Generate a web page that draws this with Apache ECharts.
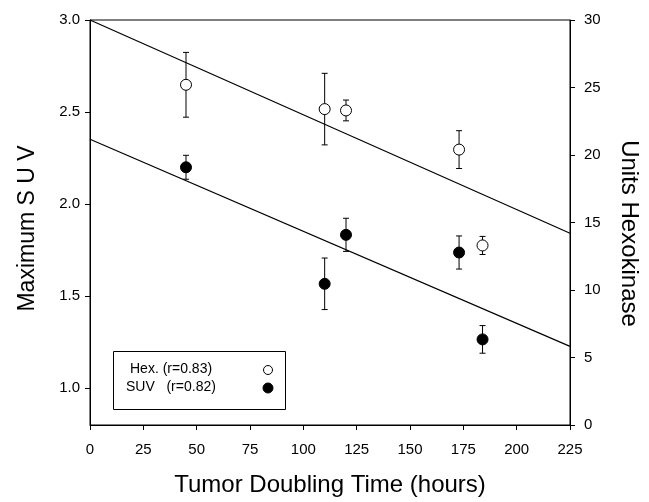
<!DOCTYPE html>
<html>
<head>
<meta charset="utf-8">
<script src="https://cdn.jsdelivr.net/npm/echarts@6/dist/echarts.min.js"></script>
<style>html,body{margin:0;padding:0;background:#fff}#c{width:649px;height:502px}</style>
</head>
<body>
<div id="c"></div>
<script>
// ---- data ----
const xTicks = [0, 25, 50, 75, 100, 125, 150, 175, 200, 225];
const suvTicks = [1.0, 1.5, 2.0, 2.5, 3.0];
const hexTicks = [0, 5, 10, 15, 20, 25, 30];

const hexX = [45, 110, 120, 173, 184];
const hexY = [25.2, 23.4, 23.3, 20.4, 13.3];
const hexErr = [2.4, 2.65, 0.77, 1.4, 0.67];

const suvX = [45, 110, 120, 173, 184];
const suvY = [2.20, 1.567, 1.833, 1.737, 1.265];
const suvErr = [0.065, 0.14, 0.09, 0.09, 0.075];

const hexFitX = [0, 225];
const hexFitY = [30, 14.2];
const suvFitX = [0, 225];
const suvFitY = [2.352, 1.227];

const legendLabels = ['Hex. (r=0.83)', 'SUV   (r=0.82)'];

// ---- chart ----
const FONT = '"Liberation Sans", Arial, Helvetica, sans-serif';
const chart = echarts.init(document.getElementById('c'), null, {renderer: 'canvas'});

function zip(xs, ys, es) { return xs.map((x, i) => es ? [x, ys[i], es[i]] : [x, ys[i]]); }

function errRender(params, api) {
  const x = api.value(0), y = api.value(1), e = api.value(2);
  const t = api.coord([x, y + e]);
  const b = api.coord([x, y - e]);
  const w = 3;
  const st = {stroke: '#000', lineWidth: 1};
  return {
    type: 'group',
    children: [
      {type: 'line', shape: {x1: t[0], y1: t[1], x2: b[0], y2: b[1]}, style: st},
      {type: 'line', shape: {x1: t[0] - w, y1: t[1], x2: t[0] + w, y2: t[1]}, style: st},
      {type: 'line', shape: {x1: b[0] - w, y1: b[1], x2: b[0] + w, y2: b[1]}, style: st}
    ]
  };
}

const axisCommon = {
  axisLine: {show: true, lineStyle: {color: '#000', width: 1}},
  axisTick: {show: true, inside: false, length: 5, lineStyle: {color: '#000'}},
  splitLine: {show: false},
  nameLocation: 'middle'
};

chart.setOption({
  animation: false,
  backgroundColor: '#fff',
  grid: {left: 90, right: 79, top: 20, bottom: 68, show: true, borderColor: '#000', borderWidth: 1, containLabel: false},
  xAxis: Object.assign({}, axisCommon, {
    type: 'value', min: 0, max: 225, interval: 25,
    name: 'Tumor Doubling Time (hours)', nameGap: 48,
    nameTextStyle: {color: '#000', fontSize: 24, fontFamily: FONT},
    axisLabel: {color: '#000', fontSize: 15, fontFamily: FONT, margin: 17}
  }),
  yAxis: [
    Object.assign({}, axisCommon, {
      type: 'value', min: 0.8, max: 3.0, position: 'left',
      name: 'Maximum S U V', nameGap: 51,
      nameTextStyle: {color: '#000', fontSize: 23, fontFamily: FONT, padding: [0, 12, 0, 0]},
      axisTick: {show: true, length: 5, lineStyle: {color: '#000'}, customValues: suvTicks},
      axisLabel: {color: '#000', fontSize: 15, fontFamily: FONT, margin: 10, customValues: suvTicks,
                  formatter: v => Number(v).toFixed(1)}
    }),
    Object.assign({}, axisCommon, {
      type: 'value', min: 0, max: 30, interval: 5, position: 'right',
      name: 'Units Hexokinase', nameGap: 47, nameRotate: -90,
      nameTextStyle: {color: '#000', fontSize: 24, fontFamily: FONT, padding: [0, 0, 0, 22]},
      axisLabel: {color: '#000', fontSize: 15, fontFamily: FONT, margin: 14}
    })
  ],
  series: [
    {type: 'line', yAxisIndex: 1, data: zip(hexFitX, hexFitY), symbol: 'none',
     lineStyle: {color: '#000', width: 1.2}, silent: true, z: 1},
    {type: 'line', yAxisIndex: 0, data: zip(suvFitX, suvFitY), symbol: 'none',
     lineStyle: {color: '#000', width: 1.2}, silent: true, z: 1},
    {type: 'custom', yAxisIndex: 1, renderItem: errRender, data: zip(hexX, hexY, hexErr),
     encode: {x: 0, y: 1}, z: 2, silent: true},
    {type: 'custom', yAxisIndex: 0, renderItem: errRender, data: zip(suvX, suvY, suvErr),
     encode: {x: 0, y: 1}, z: 2, silent: true},
    {type: 'scatter', yAxisIndex: 1, data: zip(hexX, hexY), symbol: 'circle', symbolSize: 11,
     itemStyle: {color: '#fff', borderColor: '#000', borderWidth: 1, opacity: 1}, z: 3},
    {type: 'scatter', yAxisIndex: 0, data: zip(suvX, suvY), symbol: 'circle', symbolSize: 11,
     itemStyle: {color: '#000', borderColor: '#000', borderWidth: 1, opacity: 1}, z: 3}
  ],
  graphic: [
    {type: 'rect', left: 113, top: 351, shape: {width: 172, height: 58},
     style: {fill: '#fff', stroke: '#000', lineWidth: 1}, z: 10},
    {type: 'text', left: 130, top: 362, style: {text: legendLabels[0], fill: '#000', font: '14px ' + FONT}, z: 11},
    {type: 'text', left: 126, top: 380, style: {text: legendLabels[1], fill: '#000', font: '14px ' + FONT}, z: 11},
    {type: 'circle', shape: {cx: 268, cy: 370, r: 4.5}, style: {fill: '#fff', stroke: '#000', lineWidth: 1}, z: 11},
    {type: 'circle', shape: {cx: 268, cy: 388, r: 5}, style: {fill: '#000', stroke: '#000', lineWidth: 1}, z: 11}
  ]
});
</script>
</body>
</html>
